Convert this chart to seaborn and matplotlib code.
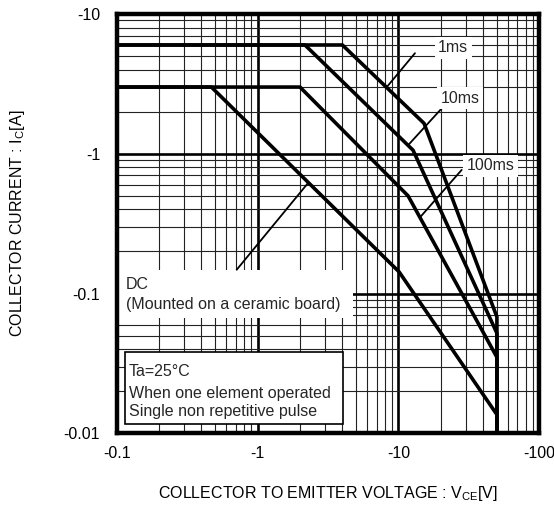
"""Safe operating area chart (collector current vs collector-emitter voltage)."""
import pandas as pd
import matplotlib
matplotlib.use("Agg")
import matplotlib.pyplot as plt
from matplotlib.patches import Rectangle
from matplotlib.ticker import LogLocator, NullFormatter
import seaborn as sns

# --- Data (magnitudes, drawn on log axes) ---
V_1MS = [0.1, 4.0, 15.2, 50, 50]
I_1MS = [6, 6, 1.65, 0.068, 0.01]
V_10MS = [0.1, 2.17, 12.7, 50, 50]
I_10MS = [6, 6, 1.06, 0.052, 0.01]
V_100MS = [0.1, 2.0, 11.7, 50, 50]
I_100MS = [3, 3, 0.5, 0.035, 0.01]
V_DC = [0.1, 0.47, 10.1, 50, 50]
I_DC = [3, 3, 0.143, 0.0136, 0.01]

X_TICKS = [0.1, 1, 10, 100]
X_TICK_LABELS = ["-0.1", "-1", "-10", "-100"]
Y_TICKS = [0.01, 0.1, 1, 10]
Y_TICK_LABELS = ["-0.01", "-0.1", "-1", "-10"]

FS = 11.5

rows = []
for name, vs, cs in [("1ms", V_1MS, I_1MS), ("10ms", V_10MS, I_10MS),
                     ("100ms", V_100MS, I_100MS), ("DC", V_DC, I_DC)]:
    for i, (v, c) in enumerate(zip(vs, cs)):
        rows.append({"curve": name, "order": i, "V": v, "I": c})
df = pd.DataFrame(rows)

sns.set_theme(style="white")
plt.rcParams["font.family"] = ["Liberation Sans", "DejaVu Sans"]
plt.rcParams["mathtext.fontset"] = "custom"
plt.rcParams["mathtext.rm"] = "Liberation Sans"

fig = plt.figure(figsize=(5.54, 5.12), dpi=100)
ax = fig.add_axes([0.2106, 0.1537, 0.7629, 0.8190])

sns.lineplot(data=df, x="V", y="I", hue="curve", sort=False, estimator=None,
             palette=["black"] * 4, linewidth=2.6, legend=False, ax=ax, zorder=3)

ax.set_xscale("log")
ax.set_yscale("log")
ax.set_xlim(0.1, 100)
ax.set_ylim(0.01, 10)

ax.set_xticks(X_TICKS)
ax.set_xticklabels(X_TICK_LABELS, fontsize=FS)
ax.set_yticks(Y_TICKS)
ax.set_yticklabels(Y_TICK_LABELS, fontsize=FS)
for axis in (ax.xaxis, ax.yaxis):
    axis.set_minor_locator(LogLocator(base=10, subs=range(2, 10)))
    axis.set_minor_formatter(NullFormatter())
ax.tick_params(which="both", length=0, colors="black")
ax.tick_params(axis="x", pad=9)
ax.tick_params(axis="y", pad=12)

ax.set_axisbelow(True)
ax.grid(which="major", color="black", linewidth=1.9)
ax.grid(which="minor", color="#222222", linewidth=0.8)
for sp in ax.spines.values():
    sp.set_visible(True)
    sp.set_color("black")
    sp.set_linewidth(3.2)

ax.set_xlabel(r"COLLECTOR TO EMITTER VOLTAGE : V$_\mathregular{CE}$[V]",
              fontsize=FS, color="black", labelpad=17)
ax.set_ylabel(r"COLLECTOR CURRENT : I$_\mathregular{C}$[A]",
              fontsize=FS, color="black", labelpad=26)

# pulse-width labels with leader lines
labels = [
    ("1ms", (0.796, 0.919), (13.1, 5.24), (8.24, 2.99)),
    ("10ms", (0.812, 0.799), (20.8, 2.17), (11.7, 1.15)),
    ("100ms", (0.884, 0.6375), (28.1, 0.766), (14.2, 0.35)),
]
for txt, pos, start, end in labels:
    ax.annotate("", xy=end, xytext=start,
                arrowprops=dict(arrowstyle="-", lw=1.3, color="black",
                                shrinkA=0, shrinkB=0), zorder=4)
    ax.text(*pos, txt, transform=ax.transAxes, fontsize=FS, ha="center",
            va="center", zorder=5,
            bbox=dict(facecolor="white", edgecolor="none", pad=2.5))

# DC label
ax.add_patch(Rectangle((0.002, 0.275), 0.556, 0.114, transform=ax.transAxes,
                       facecolor="white", edgecolor="none", zorder=2.5))
ax.annotate("", xy=(0.711, 0.148), xytext=(2.29, 0.62),
            arrowprops=dict(arrowstyle="-", lw=1.3, color="black",
                            shrinkA=0, shrinkB=0), zorder=4)
ax.text(0.022, 0.354, "DC", transform=ax.transAxes, fontsize=FS,
        va="center", zorder=5)
ax.text(0.022, 0.306, "(Mounted on a ceramic board)", transform=ax.transAxes,
        fontsize=FS, va="center", zorder=5)

# condition box
ax.add_patch(Rectangle((0.0196, 0.0222), 0.5152, 0.1724, transform=ax.transAxes,
                       facecolor="white", edgecolor="black", linewidth=1.2,
                       zorder=4.5))
for fy, line in [(0.147, "Ta=25°C"), (0.0954, "When one element operated"),
                 (0.0515, "Single non repetitive pulse")]:
    ax.text(0.0284, fy, line, transform=ax.transAxes, fontsize=FS,
            va="center", zorder=5)

fig.savefig("out.png", dpi=100)
plt.close(fig)
